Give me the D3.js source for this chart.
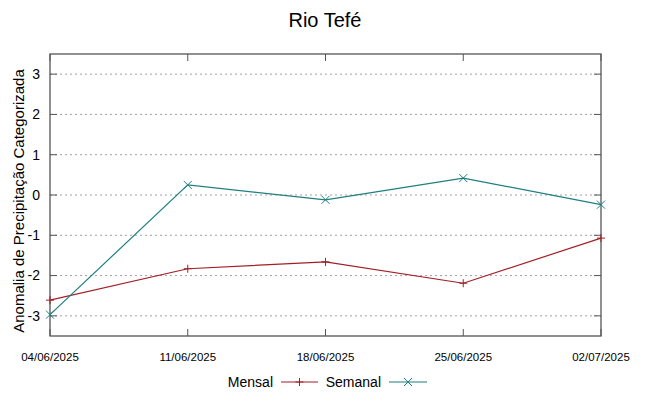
<!DOCTYPE html>
<html>
<head>
<meta charset="utf-8">
<script src="https://cdn.jsdelivr.net/npm/d3@7"></script>
<style>
  body { margin: 0; background: #fff; }
  text { font-family: "Liberation Sans", Arial, sans-serif; fill: #000; }
</style>
</head>
<body>
<div id="chart"></div>
<script>
// data
var dates = ["04/06/2025", "11/06/2025", "18/06/2025", "25/06/2025", "02/07/2025"];
var mensal = [-2.61, -1.83, -1.66, -2.19, -1.07];
var semanal = [-2.97, 0.25, -0.12, 0.42, -0.24];
var yTicks = [-3, -2, -1, 0, 1, 2, 3];

var width = 649, height = 396;
var margin = {top: 54, right: 48, bottom: 60, left: 50};
var w = width - margin.left - margin.right,
    h = height - margin.top - margin.bottom;

var parse = d3.timeParse("%d/%m/%Y");

var svg = d3.select("#chart")
    .append("svg")
    .attr("width", width)
    .attr("height", height);

var g = svg.append("g")
    .attr("transform", "translate(" + margin.left + "," + margin.top + ")");

var x = d3.scaleTime()
    .domain([parse(dates[0]), parse(dates[dates.length - 1])])
    .range([0, w]);

var y = d3.scaleLinear()
    .domain([-3.5, 3.5])
    .range([h, 0]);

// grid
g.append("g")
    .selectAll("line")
    .data(yTicks)
    .enter()
    .append("line")
    .attr("x1", 0)
    .attr("x2", w)
    .attr("y1", function(d) { return y(d); })
    .attr("y2", function(d) { return y(d); })
    .style("stroke", "#a0a0a0")
    .style("stroke-width", 1)
    .style("stroke-dasharray", "2,3");

// tick marks (inside, mirrored)
var tk = g.append("g").style("stroke", "#555").style("stroke-width", 1);
yTicks.forEach(function(d) {
    tk.append("line").attr("x1", 0).attr("x2", 7).attr("y1", y(d)).attr("y2", y(d));
    tk.append("line").attr("x1", w).attr("x2", w - 7).attr("y1", y(d)).attr("y2", y(d));
});
dates.forEach(function(d) {
    var px = x(parse(d));
    tk.append("line").attr("x1", px).attr("x2", px).attr("y1", h).attr("y2", h - 7);
    tk.append("line").attr("x1", px).attr("x2", px).attr("y1", 0).attr("y2", 7);
});

// border
g.append("rect")
    .attr("x", 0).attr("y", 0)
    .attr("width", w).attr("height", h)
    .style("fill", "none")
    .style("stroke", "#555")
    .style("stroke-width", 1.3);

// y tick labels
g.append("g")
    .selectAll("text")
    .data(yTicks)
    .enter()
    .append("text")
    .attr("x", -10)
    .attr("y", function(d) { return y(d); })
    .attr("dy", "0.35em")
    .attr("text-anchor", "end")
    .style("font-size", "14px")
    .text(function(d) { return d; });

// x tick labels
g.append("g")
    .selectAll("text")
    .data(dates)
    .enter()
    .append("text")
    .attr("x", function(d) { return x(parse(d)); })
    .attr("y", h + 25)
    .attr("text-anchor", "middle")
    .style("font-size", "11.5px")
    .text(function(d) { return d; });

// title
svg.append("text")
    .attr("x", 325)
    .attr("y", 27)
    .attr("text-anchor", "middle")
    .style("font-size", "20px")
    .text("Rio Tefé");

// y axis label
svg.append("text")
    .attr("transform", "translate(24,201) rotate(-90)")
    .attr("text-anchor", "middle")
    .style("font-size", "15px")
    .text("Anomalia de Precipitação Categorizada");

// series
var series = [
    {name: "Mensal", values: mensal, color: "#a31f26", mark: "plus"},
    {name: "Semanal", values: semanal, color: "#1d7f80", mark: "cross"}
];

var line = d3.line()
    .x(function(d, i) { return x(parse(dates[i])); })
    .y(function(d) { return y(d); });

function drawMark(sel, type, cx, cy, color) {
    var s = 4;
    if (type == "plus") {
        sel.append("line").attr("x1", cx - s).attr("x2", cx + s).attr("y1", cy).attr("y2", cy).style("stroke", color);
        sel.append("line").attr("x1", cx).attr("x2", cx).attr("y1", cy - s).attr("y2", cy + s).style("stroke", color);
    } else {
        sel.append("line").attr("x1", cx - s).attr("x2", cx + s).attr("y1", cy - s).attr("y2", cy + s).style("stroke", color);
        sel.append("line").attr("x1", cx - s).attr("x2", cx + s).attr("y1", cy + s).attr("y2", cy - s).style("stroke", color);
    }
}

series.forEach(function(s) {
    g.append("path")
        .datum(s.values)
        .attr("d", line)
        .style("fill", "none")
        .style("stroke", s.color)
        .style("stroke-width", 1.2);
    var mg = g.append("g").style("stroke-width", 1);
    s.values.forEach(function(v, i) {
        drawMark(mg, s.mark, x(parse(dates[i])), y(v), s.color);
    });
});

// legend
var legend = [
    {name: "Mensal", color: "#a31f26", mark: "plus", textX: 273, x1: 281, x2: 318},
    {name: "Semanal", color: "#1d7f80", mark: "cross", textX: 381, x1: 389, x2: 427}
];
legend.forEach(function(l) {
    svg.append("text")
        .attr("x", l.textX)
        .attr("y", 387)
        .attr("text-anchor", "end")
        .style("font-size", "14px")
        .text(l.name);
    svg.append("line")
        .attr("x1", l.x1).attr("x2", l.x2)
        .attr("y1", 382).attr("y2", 382)
        .style("stroke", l.color)
        .style("stroke-width", 1.2);
    drawMark(svg.append("g"), l.mark, (l.x1 + l.x2) / 2, 382, l.color);
});
</script>
</body>
</html>
